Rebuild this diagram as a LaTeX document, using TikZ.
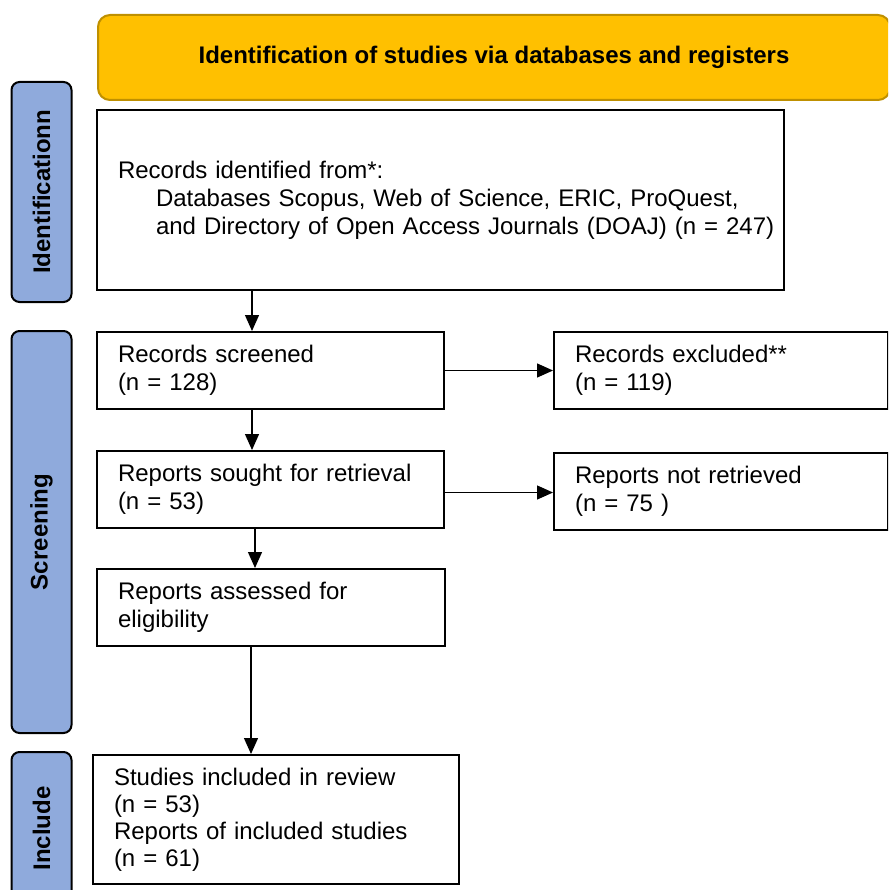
\documentclass[tikz,border=0pt]{standalone}
\usepackage{fontspec}
\setmainfont{Liberation Sans}
\usetikzlibrary{arrows.meta}
\definecolor{gold1}{RGB}{255,192,0}
\definecolor{gold2}{RGB}{191,144,0}
\definecolor{blue1}{RGB}{143,170,220}
\def\lw{2pt}

\begin{document}
\begin{tikzpicture}[	x=1pt, y=-1pt, >={Triangle[length=16pt,width=14pt]},
				box/.style={draw=black,line width=\lw,anchor=north west,align=left,inner xsep=21pt,inner ysep=0pt,font=\fontsize{24}{28}\selectfont},
				side/.style={draw=black,line width=\lw,fill=blue1,rounded corners=8pt,rotate=90,inner sep=0pt,minimum height=60pt,font=\fontsize{24}{28}\selectfont\bfseries},
				flow/.style={line width=1.3pt,->}]

	\path[use as bounding box] (0,0) rectangle (888,890);
	\clip (0,0) rectangle (888,890);

	% Header
	\node[draw=gold2,fill=gold1,line width=\lw,rounded corners=12pt,anchor=north west,minimum width=792pt,minimum height=85pt,font=\fontsize{24}{28}\selectfont\bfseries] (banner) at (97,14) {Identification of studies via databases and registers};

	% Phases
	\node[side,minimum width=220pt] (sideident) at (41.5,192) {Identificationn};
	\node[side,minimum width=402pt] (sidescreen) at (41.5,532) {Screening};
	\node[side,minimum width=153pt] (sideincl) at (41.5,828.5) {Include};

	% Boxes
	\node[box,text width=645pt,minimum height=180pt] (records) at (96,109) {Records identified from*:\\\hspace*{38pt}\mbox{Databases Scopus, Web of Science, ERIC, ProQuest,}\\\hspace*{38pt}\mbox{and Directory of Open Access Journals (DOAJ) (n = 247)}};
	\node[box,text width=305pt,minimum height=77pt] (screened) at (96,331) {Records screened\\(n = 128)};
	\node[box,text width=292pt,minimum height=77pt] (excluded) at (553,331) {Records excluded**\\(n = 119)};
	\node[box,text width=305pt,minimum height=77pt] (sought) at (96,450) {Reports sought for retrieval\\(n = 53)};
	\node[box,text width=292pt,minimum height=77pt] (notretr) at (553,452) {Reports not retrieved\\(n = 75 )};
	\node[box,text width=306pt,minimum height=77pt] (assessed) at (96,568) {Reports assessed for\\eligibility};
	\node[box,text width=324pt,minimum height=129pt,font=\fontsize{24}{27}\selectfont] (included) at (92,754) {Studies included in review\\(n = 53)\\Reports of included studies\\(n = 61)};

	% Arrows
	\draw[flow] ([xshift=156pt]records.south west) -- ([xshift=156pt]records.south west |- screened.north);
	\draw[flow] ([xshift=156pt]screened.south west) -- ([xshift=156pt]screened.south west |- sought.north);
	\draw[flow] ([xshift=159pt]sought.south west) -- ([xshift=159pt]sought.south west |- assessed.north);
	\draw[flow] ([xshift=155pt]assessed.south west) -- ([xshift=155pt]assessed.south west |- included.north);
	\draw[flow] (screened.east) -- (screened.east -| excluded.west);
	\draw[flow] ([yshift=-3pt]sought.east) -- ([yshift=-3pt]sought.east -| notretr.west);

\end{tikzpicture}
\end{document}
